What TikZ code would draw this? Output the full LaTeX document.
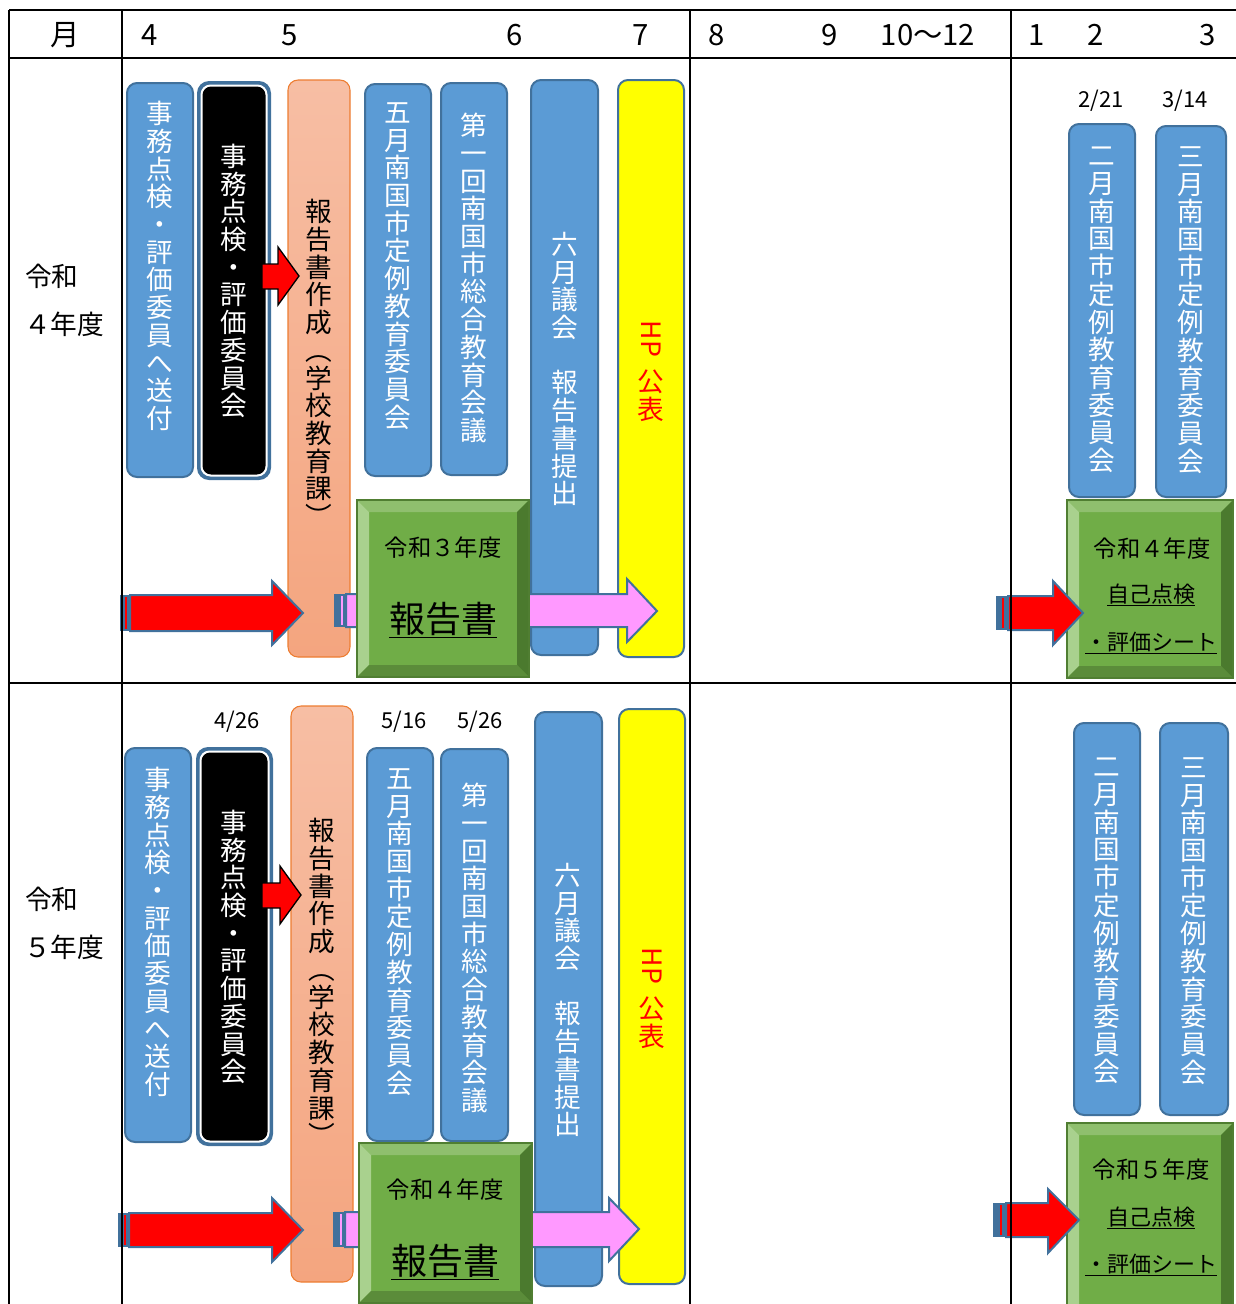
\documentclass[tikz,border=0pt]{standalone}
\usepackage{fontspec}
\setmainfont{Noto Sans CJK JP}
\definecolor{boxblue}{HTML}{5B9BD5}
\definecolor{boxedge}{HTML}{41719C}
\definecolor{salmonedge}{HTML}{ED7D31}
\definecolor{salmontop}{HTML}{F7BEA4}
\definecolor{salmonbot}{HTML}{F4A57F}
\definecolor{pinkfill}{HTML}{FF99FF}
\definecolor{yfill}{HTML}{FFFF00}
\definecolor{redfill}{HTML}{FF0000}
\definecolor{gface}{HTML}{70AD47}
\definecolor{gtop}{HTML}{8FBF6E}
\definecolor{gleft}{HTML}{A9D18E}
\definecolor{gright}{HTML}{4B7A2E}
\definecolor{gbot}{HTML}{5B8C3A}
\definecolor{gedge}{HTML}{507E32}
\newcommand\bevelbox[4]{%
  \fill[gface] (#1,#2) rectangle (#3,#4);
  \fill[gtop] (#1,#2) -- (#3,#2) -- ({#3-12},{#2+12}) -- ({#1+12},{#2+12}) -- cycle;
  \fill[gleft] (#1,#2) -- ({#1+12},{#2+12}) -- ({#1+12},{#4-12}) -- (#1,#4) -- cycle;
  \fill[gright] (#3,#2) -- (#3,#4) -- ({#3-12},{#4-12}) -- ({#3-12},{#2+12}) -- cycle;
  \fill[gbot] (#1,#4) -- (#3,#4) -- ({#3-12},{#4-12}) -- ({#1+12},{#4-12}) -- cycle;
  \draw[gedge, line width=1.2pt] (#1,#2) rectangle (#3,#4);
}
\newcommand\blackbox[4]{%
  \fill[boxedge, rounded corners=9pt] (#1,#2) rectangle (#3,#4);
  \fill[white, rounded corners=7.5pt] ({#1+3.5},{#2+3.5}) rectangle ({#3-3.5},{#4-3.5});
  \fill[black, rounded corners=6.5pt] ({#1+5.5},{#2+5.5}) rectangle ({#3-5.5},{#4-5.5});
}
\newcommand\vfnt{\fontsize{20}{20.8}\selectfont}
\begin{document}
\lineskiplimit=-50pt
\lineskip=0pt
\begin{tikzpicture}[x=0.75pt,y=-0.75pt,
  bluebox/.style={draw=boxedge, fill=boxblue, line width=1.5pt, rounded corners=7.5pt},
  yellowbox/.style={draw=boxedge, fill=yfill, line width=1.5pt, rounded corners=7.5pt},
  salmonbox/.style={draw=salmonedge, line width=0.8pt, top color=salmontop, bottom color=salmonbot, rounded corners=7.5pt},
  redarrow/.style={draw=boxedge, fill=redfill, line width=1.5pt, line join=miter},
  pinkarrow/.style={draw=boxedge, fill=pinkfill, line width=1.5pt, line join=miter},
  smallarrow/.style={draw=black, fill=redfill, line width=1pt, line join=miter},
  stripe/.style={fill=boxedge},
  vtext/.style={align=center, inner sep=0pt, font=\vfnt},
  hdr/.style={inner sep=0pt, font=\fontsize{22}{24}\selectfont},
  lbl/.style={inner sep=0pt, anchor=west, font=\fontsize{20}{22}\selectfont},
  date/.style={inner sep=0pt, font=\fontsize{16.5}{18}\selectfont},
  gsmall/.style={inner sep=0pt, font=\fontsize{17.5}{19}\selectfont},
  gbig/.style={inner sep=0pt, font=\fontsize{27}{29}\selectfont},
  gmid/.style={inner sep=0pt, font=\fontsize{16.5}{18}\selectfont},
  grid/.style={black, line width=1.9pt}
]
\useasboundingbox (0,0) rectangle (1236,1304);

% ---------- header ----------
\node[hdr] (hm) at (65,35) {月};
\node[hdr] (h4) at (150,35) {4};
\node[hdr] (h5) at (290,35) {5};
\node[hdr] (h6) at (515,35) {6};
\node[hdr] (h7) at (641,35) {7};
\node[hdr] (h8) at (717,35) {8};
\node[hdr] (h9) at (830,35) {9};
\node[hdr] (h10) at (928,35) {10〜12};
\node[hdr] (h1) at (1037,35) {1};
\node[hdr] (h2) at (1096,35) {2};
\node[hdr] (h3) at (1208,35) {3};

% ---------- row labels ----------
\node[lbl] (ra1) at (25,276) {令和};
\node[lbl] (rb1) at (24,324) {４年度};
\node[lbl] (ra2) at (25,899) {令和};
\node[lbl] (rb2) at (24,947) {５年度};

% ================= Row 1 =================
\draw[bluebox] (127,83) rectangle (193,477);
\node[vtext, text=white] (t11) at (160,266) {事\\務\\点\\検\\・\\評\\価\\委\\員\\へ\\送\\付};
\blackbox{197}{81}{271}{480}
\node[vtext, text=white] (t12) at (234,281) {事\\務\\点\\検\\・\\評\\価\\委\\員\\会};
\draw[salmonbox] (288,80) rectangle (350,657);
\node[vtext] (t13) at (319,363) {報\\告\\書\\作\\成\\︵\\学\\校\\教\\育\\課\\︶};
\draw[bluebox] (365,84) rectangle (431,476);
\node[vtext, text=white] (t14) at (398,266) {五\\月\\南\\国\\市\\定\\例\\教\\育\\委\\員\\会};
\draw[bluebox] (441,83) rectangle (507,475);
\node[vtext, text=white] (t15) at (474,278) {第\\一\\回\\南\\国\\市\\総\\合\\教\\育\\会\\議};
\draw[bluebox] (531,80) rectangle (598,655);
\node[vtext, text=white] (t16) at (565,369) {六\\月\\議\\会\\　\\報\\告\\書\\提\\出};
\draw[yellowbox] (618,80) rectangle (684,657);
\node[vtext, text=redfill, rotate=-90] (t17a) at (651,339) {HP};
\node[vtext, text=redfill] (t17b) at (651,396) {公\\表};
\node[date] (d21) at (1101,101) {2/21};
\node[date] (d314) at (1185,101) {3/14};
\draw[bluebox] (1069,124) rectangle (1135,497);
\node[vtext, text=white] (t18) at (1102,310) {二\\月\\南\\国\\市\\定\\例\\教\\育\\委\\員\\会};
\draw[bluebox] (1156,126) rectangle (1226,497);
\node[vtext, text=white] (t19) at (1191,310) {三\\月\\南\\国\\市\\定\\例\\教\\育\\委\\員\\会};

% arrows row 1
\draw[smallarrow] (262,264) -- (278,264) -- (278,247) -- (299,276) -- (278,305) -- (278,289) -- (262,289) -- cycle;
\fill[stripe] (120,595) rectangle (129,631);
\draw[redfill, line width=0.8pt] (126,597) -- (126,629);
\draw[redarrow] (130,595) -- (272,595) -- (272,581) -- (303,613) -- (272,645) -- (272,631) -- (130,631) -- cycle;
\fill[stripe] (334,594) rectangle (345,627);
\draw[pinkfill, line width=0.8pt] (342,596) -- (342,625);
\draw[pinkarrow] (346,594) -- (627,594) -- (627,579) -- (657,611) -- (627,642) -- (627,627) -- (346,627) -- cycle;
\bevelbox{357}{500}{529}{677}
\node[gsmall] (g1a) at (443,548) {令和３年度};
\node[gbig] (g1b) at (443,620) {\underline{報告書}};
\bevelbox{1067}{500}{1233}{678}
\node[gsmall] (g2a) at (1152,549) {令和４年度};
\node[gmid] (g2b) at (1151,595) {\underline{自己点検}};
\node[gmid] (g2c) at (1151,643) {\underline{・評価シート}};
\fill[stripe] (996,596) rectangle (1007,630);
\draw[redfill, line width=0.8pt] (1003,598) -- (1003,628);
\draw[redarrow] (1008,596) -- (1053,596) -- (1053,581) -- (1083,613) -- (1053,645) -- (1053,630) -- (1008,630) -- cycle;

% ================= Row 2 =================
\node[date] (d426) at (237,722) {4/26};
\node[date] (d516) at (404,722) {5/16};
\node[date] (d526) at (480,722) {5/26};
\draw[bluebox] (125,748) rectangle (191,1142);
\node[vtext, text=white] (t21) at (158,932) {事\\務\\点\\検\\・\\評\\価\\委\\員\\へ\\送\\付};
\blackbox{196}{747}{273}{1146}
\node[vtext, text=white] (t22) at (234,947) {事\\務\\点\\検\\・\\評\\価\\委\\員\\会};
\draw[salmonbox] (291,706) rectangle (353,1282);
\node[vtext] (t23) at (322,982) {報\\告\\書\\作\\成\\︵\\学\\校\\教\\育\\課\\︶};
\draw[bluebox] (367,748) rectangle (433,1141);
\node[vtext, text=white] (t24) at (400,932) {五\\月\\南\\国\\市\\定\\例\\教\\育\\委\\員\\会};
\draw[bluebox] (441,749) rectangle (508,1141);
\node[vtext, text=white] (t25) at (475,948) {第\\一\\回\\南\\国\\市\\総\\合\\教\\育\\会\\議};
\draw[bluebox] (535,712) rectangle (602,1286);
\node[vtext, text=white] (t26) at (568,1000) {六\\月\\議\\会\\　\\報\\告\\書\\提\\出};
\draw[yellowbox] (619,709) rectangle (685,1284);
\node[vtext, text=redfill, rotate=-90] (t27a) at (652,966) {HP};
\node[vtext, text=redfill] (t27b) at (652,1023) {公\\表};
\draw[bluebox] (1074,723) rectangle (1140,1115);
\node[vtext, text=white] (t28) at (1107,921) {二\\月\\南\\国\\市\\定\\例\\教\\育\\委\\員\\会};
\draw[bluebox] (1160,723) rectangle (1228,1115);
\node[vtext, text=white] (t29) at (1194,921) {三\\月\\南\\国\\市\\定\\例\\教\\育\\委\\員\\会};

% arrows row 2
\draw[smallarrow] (262,883) -- (280,883) -- (280,866) -- (301,895) -- (280,924) -- (280,908) -- (262,908) -- cycle;
\fill[stripe] (118,1213) rectangle (128,1247);
\draw[redfill, line width=0.8pt] (125,1215) -- (125,1245);
\draw[redarrow] (129,1213) -- (272,1213) -- (272,1198) -- (303,1230) -- (272,1262) -- (272,1247) -- (129,1247) -- cycle;
\fill[stripe] (333,1212) rectangle (344,1247);
\draw[pinkfill, line width=0.8pt] (341,1214) -- (341,1245);
\draw[pinkarrow] (345,1212) -- (609,1212) -- (609,1198) -- (639,1229) -- (609,1261) -- (609,1247) -- (345,1247) -- cycle;
\bevelbox{359}{1143}{532}{1303}
\node[gsmall] (g3a) at (445,1190) {令和４年度};
\node[gbig] (g3b) at (445,1262) {\underline{報告書}};
\bevelbox{1067}{1123}{1233}{1316}
\node[gsmall] (g4a) at (1151,1170) {令和５年度};
\node[gmid] (g4b) at (1151,1218) {\underline{自己点検}};
\node[gmid] (g4c) at (1151,1265) {\underline{・評価シート}};
\fill[stripe] (993,1203) rectangle (1005,1237);
\draw[redfill, line width=0.8pt] (1001,1205) -- (1001,1235);
\draw[redarrow] (1006,1203) -- (1048,1203) -- (1048,1189) -- (1079,1220) -- (1048,1253) -- (1048,1237) -- (1006,1237) -- cycle;

% ---------- table grid ----------
\draw[grid] (9,10) -- (1236,10);
\draw[grid] (9,58) -- (1236,58);
\draw[grid] (9,683) -- (1236,683);
\draw[grid] (9,10) -- (9,1304);
\draw[grid] (122,10) -- (122,1304);
\draw[grid] (690,10) -- (690,1304);
\draw[grid] (1011,10) -- (1011,1304);
\end{tikzpicture}
\end{document}
